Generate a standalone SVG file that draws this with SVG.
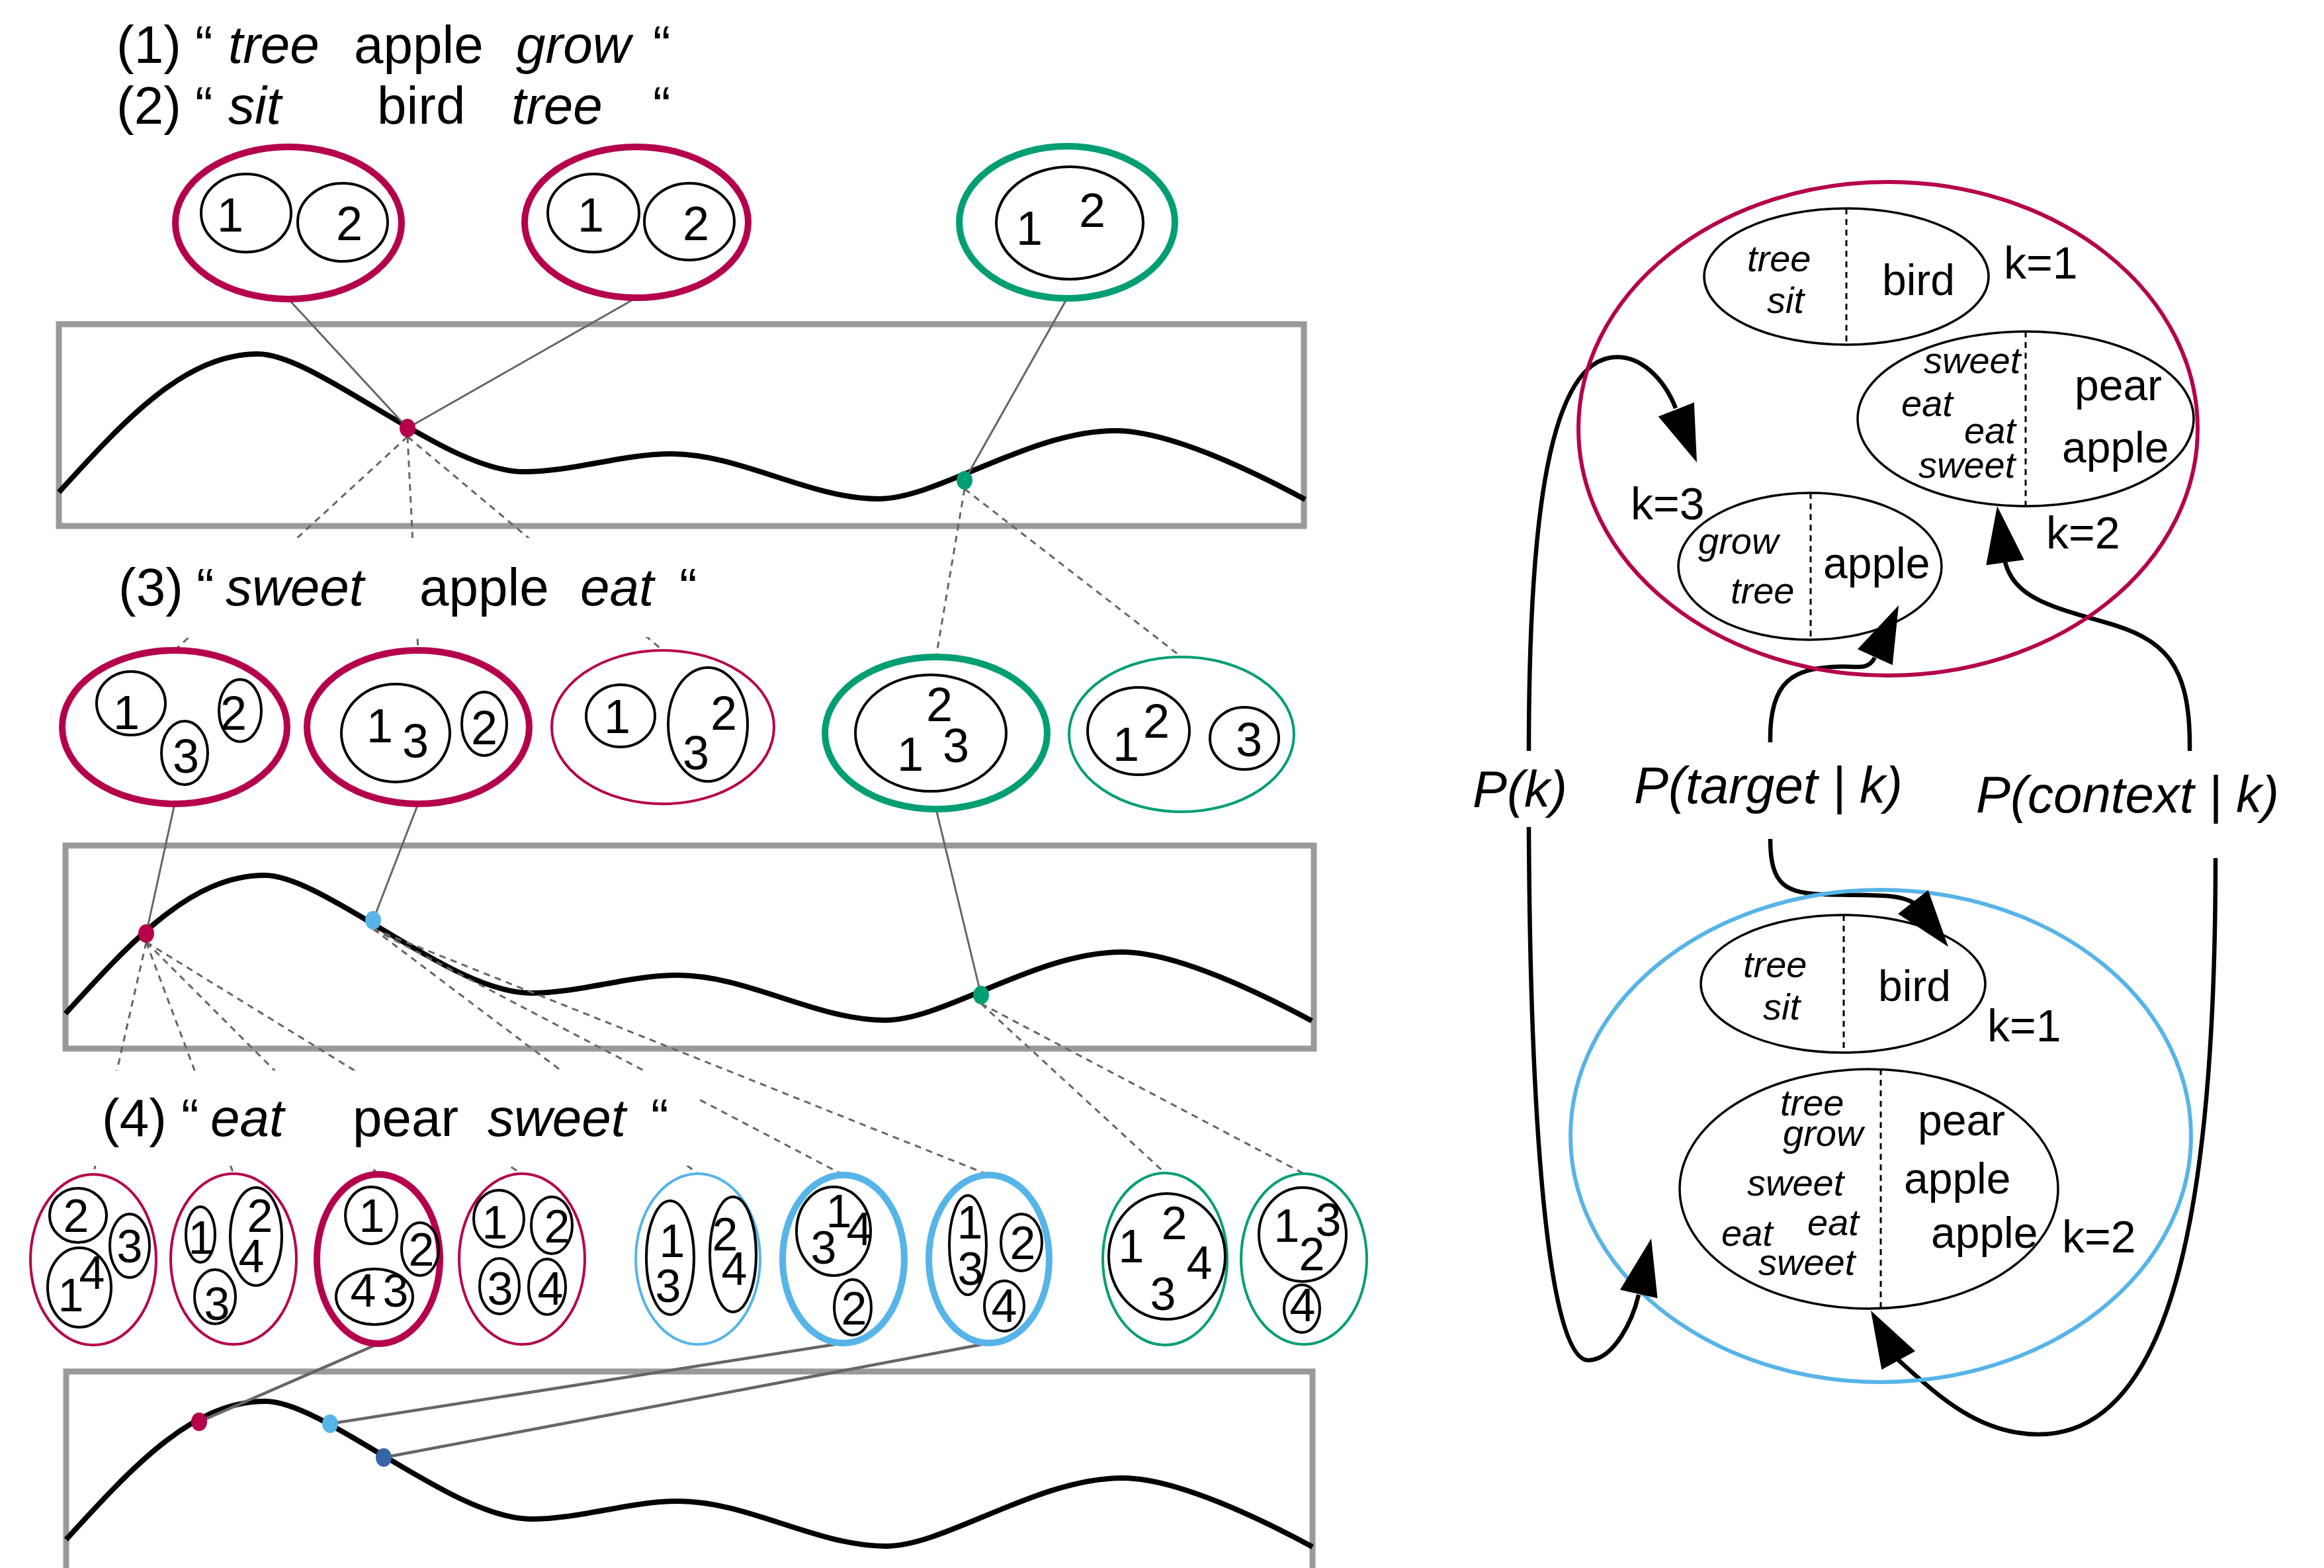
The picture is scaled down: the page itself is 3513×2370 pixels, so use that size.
<svg xmlns="http://www.w3.org/2000/svg" width="3513" height="2370" viewBox="0 0 3513 2370">
<style>
text{font-family:"Liberation Sans",Arial,sans-serif;fill:#000}
.sent{font-size:80px}
.it{font-style:italic}
.dg{font-size:72px;text-anchor:middle}
.dg4{font-size:70px;text-anchor:middle}
.thick{fill:#fff;stroke-width:10}
.thin{fill:#fff;stroke-width:4}
.red{stroke:#b5004b}
.grn{stroke:#009e73}
.blu{stroke:#56b4e9}
.in{fill:none;stroke:#000;stroke-width:4}
.frame{fill:#fff;stroke:#999;stroke-width:9}
.curve{fill:none;stroke:#000;stroke-width:8}
.ln{stroke:#666;stroke-width:3;fill:none}
.ln2{stroke:#666;stroke-width:4.5;fill:none}
.dl{stroke:#666;stroke-width:3;stroke-dasharray:10 8;fill:none}
.arr{fill:none;stroke:#000;stroke-width:6.5}
.ah{fill:#000}
.rb{fill:#fff;stroke:#000;stroke-width:3.5}
.big{fill:none;stroke-width:6}
.vd{stroke:#000;stroke-width:3;stroke-dasharray:9 7}
.w{font-size:56px;font-style:italic}
.r{font-size:66px}
.k{font-size:68px}
.lab{font-size:78px;font-style:italic}
</style>
<defs>
<path id="crv" d="M0,254 C100,144 191,45 301,45 C391,45 583,223 703,223 C778,223 851,196 926,196 C1030,196 1135,264 1239,264 C1329,264 1467,161 1597,161 C1680,161 1810,225 1884,265"/>
<path id="ah" d="M0,0 L-86,-29 L-86,29 Z"/>
</defs>
<rect width="3513" height="2370" fill="#fff"/>

<g id="frames">
<rect class="frame" x="89" y="490" width="1882" height="305"/>
<rect class="frame" x="99" y="1278" width="1887" height="307"/>
<rect class="frame" x="100" y="2073" width="1884" height="340"/>
<use href="#crv" class="curve" transform="translate(89,490)"/>
<use href="#crv" class="curve" transform="translate(99,1278)"/>
<use href="#crv" class="curve" transform="translate(100,2073)"/>
</g>

<g id="connectors">
<line class="ln" x1="436" y1="452" x2="616" y2="647"/>
<line class="ln" x1="962" y1="450" x2="616" y2="647"/>
<line class="ln" x1="1613" y1="451" x2="1458" y2="726"/>
<line class="ln" x1="264" y1="1215" x2="221" y2="1411"/>
<line class="ln" x1="632" y1="1215" x2="564" y2="1391"/>
<line class="ln" x1="1415" y1="1223" x2="1483" y2="1504"/>
<line class="ln2" x1="572" y1="2031" x2="301" y2="2149"/>
<line class="ln2" x1="1275" y1="2030" x2="499" y2="2152"/>
<line class="ln2" x1="1495" y1="2030" x2="580" y2="2203"/>
<line class="dl" x1="616" y1="660" x2="264" y2="983"/>
<line class="dl" x1="616" y1="660" x2="632" y2="983"/>
<line class="dl" x1="616" y1="660" x2="1002" y2="983"/>
<line class="dl" x1="1458" y1="739" x2="1415" y2="993"/>
<line class="dl" x1="1458" y1="739" x2="1786" y2="993"/>
<line class="dl" x1="221" y1="1424" x2="141" y2="1775"/>
<line class="dl" x1="221" y1="1424" x2="353" y2="1774"/>
<line class="dl" x1="221" y1="1424" x2="572" y2="1775"/>
<line class="dl" x1="221" y1="1424" x2="789" y2="1774"/>
<line class="dl" x1="564" y1="1404" x2="1055" y2="1774"/>
<line class="dl" x1="564" y1="1404" x2="1275" y2="1776"/>
<line class="dl" x1="564" y1="1404" x2="1495" y2="1776"/>
<line class="dl" x1="1483" y1="1517" x2="1761" y2="1773"/>
<line class="dl" x1="1483" y1="1517" x2="1971" y2="1774"/>
<path class="arr" d="M2311,1135 C2311,820 2335,560 2432,541 C2480,532 2517,576 2533,617"/>
<path class="arr" d="M2311,1250 C2313,1700 2340,2060 2402,2056 C2440,2054 2468,1996 2477,1957"/>
<path class="arr" d="M2676,1122 C2674,1025 2715,1012 2770,1008 C2805,1005 2822,1016 2834,994"/>
<path class="arr" d="M2676,1268 C2676,1340 2700,1350 2760,1352 C2830,1354 2870,1350 2893,1365"/>
<path class="arr" d="M3310,1135 C3312,1000 3270,965 3180,940 C3090,915 3045,900 3031,850"/>
<path class="arr" d="M3349,1297 C3349,1800 3290,2170 3080,2168 C2990,2167 2930,2110 2869,2055"/>
</g>

<g id="dots">
<ellipse cx="616" cy="647" rx="12" ry="14" fill="#b5004b"/>
<ellipse cx="1458" cy="726" rx="12" ry="14" fill="#009e73"/>
<ellipse cx="221" cy="1411" rx="12" ry="14" fill="#b5004b"/>
<ellipse cx="564" cy="1391" rx="12" ry="14" fill="#56b4e9"/>
<ellipse cx="1483" cy="1504" rx="12" ry="14" fill="#009e73"/>
<ellipse cx="301" cy="2149" rx="12" ry="14" fill="#b5004b"/>
<ellipse cx="499" cy="2152" rx="12" ry="14" fill="#56b4e9"/>
<ellipse cx="580" cy="2203" rx="12" ry="14" fill="#3465a4"/>
</g>

<g id="sentences">
<rect x="150" y="813" width="910" height="150" fill="#fff"/>
<rect x="100" y="1618" width="955" height="144" fill="#fff"/>
<text class="sent" y="95"><tspan x="176">(1)</tspan><tspan x="295">“</tspan><tspan x="345" class="it">tree</tspan><tspan x="535">apple</tspan><tspan x="780" class="it">grow</tspan><tspan x="987">“</tspan></text>
<text class="sent" y="187"><tspan x="176">(2)</tspan><tspan x="295">“</tspan><tspan x="345" class="it">sit</tspan><tspan x="570">bird</tspan><tspan x="773" class="it">tree</tspan><tspan x="987">“</tspan></text>
<text class="sent" y="915"><tspan x="179">(3)</tspan><tspan x="297">“</tspan><tspan x="341" class="it">sweet</tspan><tspan x="634">apple</tspan><tspan x="877" class="it">eat</tspan><tspan x="1027">“</tspan></text>
<text class="sent" y="1717"><tspan x="154">(4)</tspan><tspan x="274">“</tspan><tspan x="318" class="it">eat</tspan><tspan x="533">pear</tspan><tspan x="737" class="it">sweet</tspan><tspan x="984">“</tspan></text>
</g>

<g id="row1">
<g id="e1a"><ellipse class="thick red" cx="436" cy="337" rx="171" ry="115"/><ellipse class="in" cx="372" cy="322" rx="68" ry="59"/><ellipse class="in" cx="518" cy="336" rx="68" ry="59"/><text class="dg" x="348" y="350">1</text><text class="dg" x="528" y="363">2</text></g>
<g id="e1b"><ellipse class="thick red" cx="962" cy="336" rx="169" ry="114"/><ellipse class="in" cx="897" cy="322" rx="69" ry="59"/><ellipse class="in" cx="1042" cy="335" rx="68" ry="58"/><text class="dg" x="893" y="350">1</text><text class="dg" x="1052" y="363">2</text></g>
<g id="e1c"><ellipse class="thick grn" cx="1613" cy="336" rx="163" ry="115"/><ellipse class="in" cx="1617" cy="337" rx="111" ry="85"/><text class="dg" x="1556" y="370">1</text><text class="dg" x="1651" y="343">2</text></g>
</g>

<g id="row3">
<g id="e3a"><ellipse class="thick red" cx="264" cy="1099" rx="170" ry="116"/><ellipse class="in" cx="198" cy="1063" rx="52" ry="48"/><ellipse class="in" cx="363" cy="1074" rx="32" ry="47"/><ellipse class="in" cx="279" cy="1138" rx="35" ry="48"/><text class="dg" x="191" y="1102">1</text><text class="dg" x="353" y="1103">2</text><text class="dg" x="281" y="1168">3</text></g>
<g id="e3b"><ellipse class="thick red" cx="632" cy="1099" rx="168" ry="116"/><ellipse class="in" cx="598" cy="1108" rx="82" ry="74"/><ellipse class="in" cx="732" cy="1094" rx="34" ry="48"/><text class="dg" x="574" y="1122">1</text><text class="dg" x="628" y="1145">3</text><text class="dg" x="732" y="1125">2</text></g>
<g id="e3c"><ellipse class="thin red" cx="1002" cy="1099" rx="168" ry="116"/><ellipse class="in" cx="938" cy="1082" rx="52" ry="47"/><ellipse class="in" cx="1070" cy="1095" rx="60" ry="86"/><text class="dg" x="933" y="1108">1</text><text class="dg" x="1094" y="1103">2</text><text class="dg" x="1052" y="1163">3</text></g>
<g id="e3d"><ellipse class="thick grn" cx="1415" cy="1108" rx="168" ry="115"/><ellipse class="in" cx="1407" cy="1108" rx="114" ry="88"/><text class="dg" x="1420" y="1090">2</text><text class="dg" x="1376" y="1165">1</text><text class="dg" x="1445" y="1152">3</text></g>
<g id="e3e"><ellipse class="thin grn" cx="1786" cy="1110" rx="170" ry="117"/><ellipse class="in" cx="1721" cy="1105" rx="77" ry="66"/><ellipse class="in" cx="1881" cy="1116" rx="52" ry="47"/><text class="dg" x="1702" y="1150">1</text><text class="dg" x="1748" y="1115">2</text><text class="dg" x="1888" y="1143">3</text></g>
</g>

<g id="row4">
<g id="e4a"><ellipse class="thin red" cx="141" cy="1904" rx="95" ry="129"/><ellipse class="in" cx="118" cy="1837" rx="43" ry="41"/><ellipse class="in" cx="196" cy="1883" rx="30" ry="48"/><ellipse class="in" cx="120" cy="1946" rx="48" ry="60"/><text class="dg4" x="115" y="1862">2</text><text class="dg4" x="196" y="1908">3</text><text class="dg4" x="107" y="1982">1</text><text class="dg4" x="139" y="1948">4</text></g>
<g id="e4b"><ellipse class="thin red" cx="353" cy="1903" rx="95" ry="129"/><ellipse class="in" cx="303" cy="1866" rx="22" ry="42"/><ellipse class="in" cx="387" cy="1869" rx="39" ry="74"/><ellipse class="in" cx="325" cy="1960" rx="31" ry="41"/><text class="dg4" x="304" y="1895">1</text><text class="dg4" x="393" y="1862">2</text><text class="dg4" x="380" y="1923">4</text><text class="dg4" x="328" y="1995">3</text></g>
<g id="e4c"><ellipse class="thick red" cx="572" cy="1903" rx="93" ry="128"/><ellipse class="in" cx="561" cy="1837" rx="39" ry="43"/><ellipse class="in" cx="635" cy="1888" rx="28" ry="40"/><ellipse class="in" cx="566" cy="1960" rx="58" ry="42"/><text class="dg4" x="562" y="1862">1</text><text class="dg4" x="637" y="1913">2</text><text class="dg4" x="549" y="1975">4</text><text class="dg4" x="598" y="1975">3</text></g>
<g id="e4d"><ellipse class="thin red" cx="789" cy="1903" rx="95" ry="129"/><ellipse class="in" cx="754" cy="1842" rx="38" ry="43"/><ellipse class="in" cx="834" cy="1852" rx="31" ry="43"/><ellipse class="in" cx="755" cy="1944" rx="30" ry="42"/><ellipse class="in" cx="827" cy="1945" rx="28" ry="42"/><text class="dg4" x="748" y="1872">1</text><text class="dg4" x="842" y="1878">2</text><text class="dg4" x="756" y="1972">3</text><text class="dg4" x="832" y="1972">4</text></g>
<g id="e4e"><ellipse class="thin blu" cx="1055" cy="1903" rx="94" ry="129"/><ellipse class="in" cx="1013" cy="1901" rx="36" ry="86"/><ellipse class="in" cx="1108" cy="1896" rx="35" ry="87"/><text class="dg4" x="1016" y="1900">1</text><text class="dg4" x="1010" y="1968">3</text><text class="dg4" x="1096" y="1890">2</text><text class="dg4" x="1110" y="1942">4</text></g>
<g id="e4f"><ellipse class="thick blu" cx="1275" cy="1903" rx="92" ry="127"/><ellipse class="in" cx="1260" cy="1861" rx="56" ry="67"/><ellipse class="in" cx="1289" cy="1976" rx="28" ry="42"/><text class="dg4" x="1268" y="1855">1</text><text class="dg4" x="1299" y="1882">4</text><text class="dg4" x="1245" y="1910">3</text><text class="dg4" x="1291" y="2002">2</text></g>
<g id="e4g"><ellipse class="thick blu" cx="1495" cy="1903" rx="91" ry="127"/><ellipse class="in" cx="1463" cy="1882" rx="28" ry="75"/><ellipse class="in" cx="1544" cy="1878" rx="31" ry="43"/><ellipse class="in" cx="1518" cy="1974" rx="30" ry="38"/><text class="dg4" x="1466" y="1872">1</text><text class="dg4" x="1467" y="1942">3</text><text class="dg4" x="1546" y="1903">2</text><text class="dg4" x="1518" y="1998">4</text></g>
<g id="e4h"><ellipse class="thin grn" cx="1761" cy="1903" rx="94" ry="130"/><ellipse class="in" cx="1764" cy="1899" rx="88" ry="95"/><text class="dg4" x="1775" y="1873">2</text><text class="dg4" x="1710" y="1908">1</text><text class="dg4" x="1813" y="1933">4</text><text class="dg4" x="1758" y="1980">3</text></g>
<g id="e4i"><ellipse class="thin grn" cx="1971" cy="1903" rx="95" ry="129"/><ellipse class="in" cx="1969" cy="1866" rx="66" ry="71"/><ellipse class="in" cx="1968" cy="1978" rx="27" ry="36"/><text class="dg4" x="1945" y="1877">1</text><text class="dg4" x="2008" y="1868">3</text><text class="dg4" x="1983" y="1920">2</text><text class="dg4" x="1969" y="1997">4</text></g>
</g>

<g id="cluster-red">
<ellipse class="big red" cx="2854" cy="648" rx="468" ry="373"/>
<g id="r-k1"><ellipse class="rb" cx="2791" cy="418" rx="215" ry="103"/><line class="vd" x1="2791" y1="315" x2="2791" y2="521"/><text class="w" x="2641" y="410">tree</text><text class="w" x="2671" y="473">sit</text><text class="r" x="2845" y="446">bird</text><text class="k" x="3029" y="421">k=1</text></g>
<g id="r-k2"><ellipse class="rb" cx="3062" cy="633" rx="254" ry="132"/><line class="vd" x1="3062" y1="501" x2="3062" y2="765"/><text class="w" x="2908" y="564">sweet</text><text class="w" x="2874" y="629">eat</text><text class="w" x="2969" y="670">eat</text><text class="w" x="2900" y="722">sweet</text><text class="r" x="3136" y="605">pear</text><text class="r" x="3117" y="699">apple</text><text class="k" x="3093" y="829">k=2</text></g>
<g id="r-k3"><ellipse class="rb" cx="2736" cy="856" rx="199" ry="111"/><line class="vd" x1="2737" y1="745" x2="2737" y2="966"/><text class="w" x="2567" y="837">grow</text><text class="w" x="2616" y="912">tree</text><text class="r" x="2756" y="874">apple</text><text class="k" x="2465" y="785">k=3</text></g>
</g>

<g id="cluster-blue">
<ellipse class="big blu" cx="2843" cy="1717" rx="469" ry="372"/>
<g id="b-k1"><ellipse class="rb" cx="2786" cy="1487" rx="215" ry="104"/><line class="vd" x1="2787" y1="1383" x2="2787" y2="1591"/><text class="w" x="2635" y="1477">tree</text><text class="w" x="2665" y="1541">sit</text><text class="r" x="2839" y="1513">bird</text><text class="k" x="3004" y="1574">k=1</text></g>
<g id="b-k2"><ellipse class="rb" cx="2825" cy="1797" rx="286" ry="181"/><line class="vd" x1="2843" y1="1616" x2="2843" y2="1977"/><text class="w" x="2691" y="1686">tree</text><text class="w" x="2695" y="1732">grow</text><text class="w" x="2641" y="1807">sweet</text><text class="w" x="2602" y="1883">eat</text><text class="w" x="2732" y="1867">eat</text><text class="w" x="2658" y="1927">sweet</text><text class="r" x="2899" y="1716">pear</text><text class="r" x="2878" y="1804">apple</text><text class="r" x="2919" y="1886">apple</text><text class="k" x="3117" y="1893">k=2</text></g>
</g>

<g id="arrowheads">
<use href="#ah" class="ah" transform="translate(2565,699) rotate(68.7)"/>
<use href="#ah" class="ah" transform="translate(2870,915) rotate(-65.5)"/>
<use href="#ah" class="ah" transform="translate(3019,765) rotate(-98)"/>
<use href="#ah" class="ah" transform="translate(2945,1431) rotate(51.8)"/>
<use href="#ah" class="ah" transform="translate(2828,1981) rotate(-119)"/>
<use href="#ah" class="ah" transform="translate(2496,1872) rotate(-77.4)"/>
</g>

<g id="labels">
<text class="lab" x="2226" y="1220">P(k)</text>
<text class="lab" x="2470" y="1214">P(target | k)</text>
<text class="lab" x="2987" y="1228">P(context | k)</text>
</g>
</svg>
